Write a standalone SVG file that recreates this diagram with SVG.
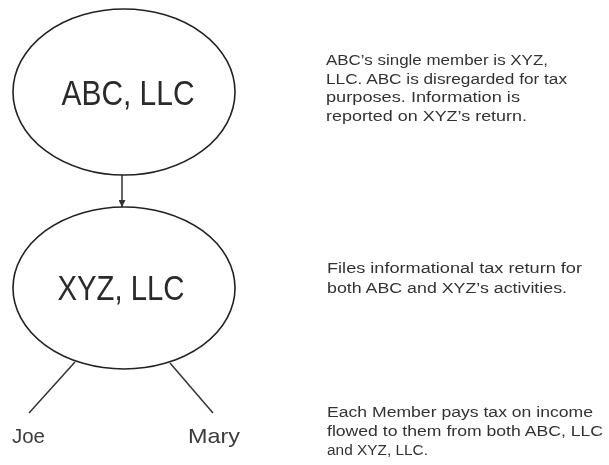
<svg xmlns="http://www.w3.org/2000/svg" width="609" height="465" viewBox="0 0 609 465">
  <defs>
    <marker id="arrow" viewBox="0 0 10 10" refX="10" refY="5" markerWidth="7" markerHeight="7" orient="auto" markerUnits="userSpaceOnUse">
      <path d="M0,0 L10,5 L0,10 Z" fill="#333"/>
    </marker>
    <filter id="soft" x="-5%" y="-5%" width="110%" height="110%">
      <feGaussianBlur stdDeviation="0.45"/>
    </filter>
  </defs>
  <style>
    .entity { fill: #fff; stroke: #222; stroke-width: 1.6; }
    .big { font-family: "Liberation Sans", Arial, sans-serif; font-size: 35px; fill: #2a2a2a; text-anchor: middle; }
    .member { font-family: "Liberation Sans", Arial, sans-serif; font-size: 21px; fill: #3a3a3a; }
    .note { font-family: "Liberation Sans", Arial, sans-serif; font-size: 14px; fill: #333; }
    .link { stroke: #333; stroke-width: 1.5; fill: none; }
  </style>
  <rect width="609" height="465" fill="#fff"/>
  <g filter="url(#soft)">
    <g id="connectors">
      <line class="link" x1="122" y1="175" x2="122" y2="207" marker-end="url(#arrow)"/>
      <line class="link" x1="75" y1="362" x2="29" y2="413"/>
      <line class="link" x1="170" y1="363" x2="213" y2="413"/>
    </g>
    <g id="abc">
      <ellipse class="entity" cx="124" cy="92" rx="111" ry="83"/>
      <text class="big" x="128" y="105" textLength="133" lengthAdjust="spacingAndGlyphs">ABC, LLC</text>
    </g>
    <g id="xyz">
      <ellipse class="entity" cx="124" cy="288" rx="111" ry="81"/>
      <text class="big" x="121" y="300" textLength="127" lengthAdjust="spacingAndGlyphs">XYZ, LLC</text>
    </g>
    <g id="joe">
      <text class="member" x="12" y="443" textLength="33" lengthAdjust="spacingAndGlyphs">Joe</text>
    </g>
    <g id="mary">
      <text class="member" x="188" y="443" textLength="52" lengthAdjust="spacingAndGlyphs">Mary</text>
    </g>
    <g id="note-abc">
      <text class="note" x="326" y="65" textLength="222" lengthAdjust="spacingAndGlyphs">ABC’s single member is XYZ,</text>
      <text class="note" x="326" y="84" textLength="241" lengthAdjust="spacingAndGlyphs">LLC. ABC is disregarded for tax</text>
      <text class="note" x="326" y="102" textLength="194" lengthAdjust="spacingAndGlyphs">purposes. Information is</text>
      <text class="note" x="326" y="121" textLength="201" lengthAdjust="spacingAndGlyphs">reported on XYZ’s return.</text>
    </g>
    <g id="note-xyz">
      <text class="note" x="327" y="273" textLength="255" lengthAdjust="spacingAndGlyphs">Files informational tax return for</text>
      <text class="note" x="327" y="293" textLength="240" lengthAdjust="spacingAndGlyphs">both ABC and XYZ’s activities.</text>
    </g>
    <g id="note-members">
      <text class="note" x="327" y="417" textLength="266" lengthAdjust="spacingAndGlyphs">Each Member pays tax on income</text>
      <text class="note" x="327" y="436" textLength="276" lengthAdjust="spacingAndGlyphs">flowed to them from both ABC, LLC</text>
      <text class="note" x="327" y="455" textLength="101" lengthAdjust="spacingAndGlyphs">and XYZ, LLC.</text>
    </g>
  </g>
</svg>
